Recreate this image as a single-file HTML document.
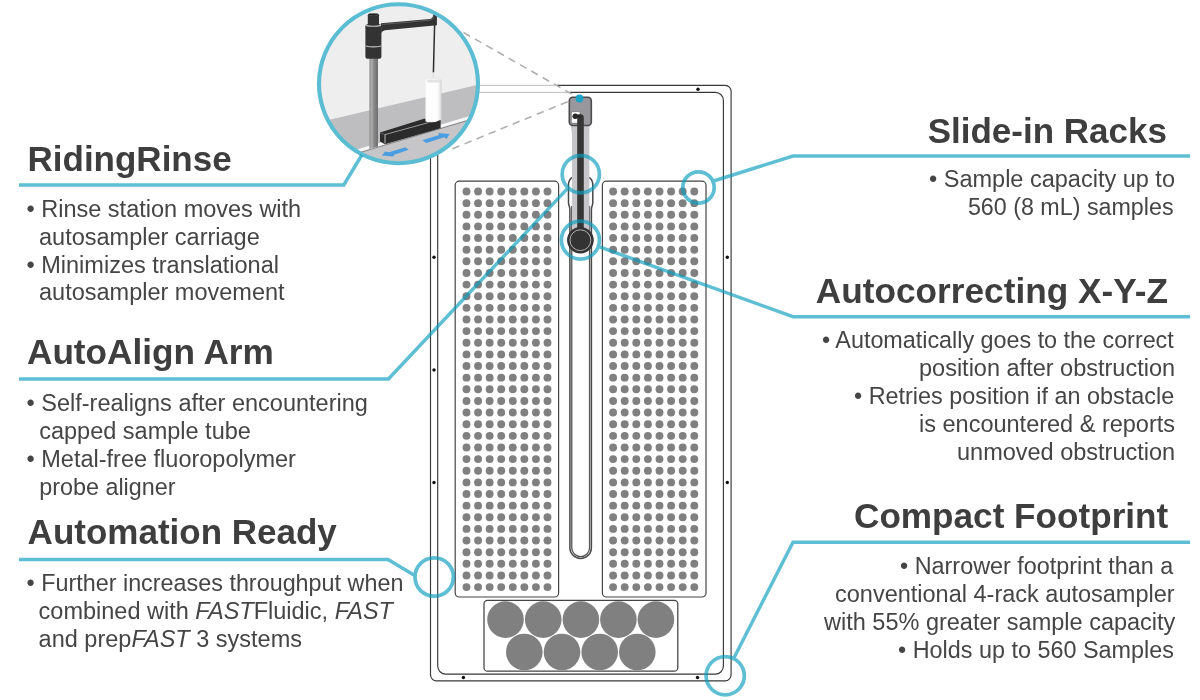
<!DOCTYPE html>
<html lang="en"><head><meta charset="utf-8"><title>Autosampler features</title>
<style>html,body{margin:0;padding:0;background:#fff}body{width:1200px;height:700px;overflow:hidden}svg{display:block}text{font-family:"Liberation Sans",Arial,Helvetica,sans-serif}</style>
</head><body>
<svg width="1200" height="700" viewBox="0 0 1200 700">
<defs>
<clipPath id="bigc"><circle cx="398.5" cy="83.8" r="79"/></clipPath>
<linearGradient id="cyl" x1="0" x2="1" y1="0" y2="0"><stop offset="0" stop-color="#fafafa"/><stop offset="0.15" stop-color="#fff"/><stop offset="0.78" stop-color="#fbfbfb"/><stop offset="1" stop-color="#d2d2d2"/></linearGradient>
<linearGradient id="post" x1="0" x2="1" y1="0" y2="0"><stop offset="0" stop-color="#8d8d8d"/><stop offset="0.3" stop-color="#b0b0b0"/><stop offset="0.5" stop-color="#8a8a8a"/><stop offset="1" stop-color="#6e6e6e"/></linearGradient>
</defs>
<rect width="1200" height="700" fill="#fff"/>
<g fill="none" stroke="#383838" stroke-width="1.15">
<rect x="430.5" y="85.3" width="300.6" height="595.5" rx="6" ry="6"/>
<rect x="437.7" y="92.4" width="285.7" height="581.7" rx="8" ry="8"/>
</g>
<rect x="425" y="80" width="132" height="9" fill="#fff"/>
<rect x="425" y="89" width="145" height="7" fill="#fff"/>
<line x1="470" y1="85.3" x2="557" y2="85.3" stroke="#b5b5b5" stroke-width="0.9"/>
<line x1="470" y1="92.4" x2="570" y2="92.4" stroke="#b5b5b5" stroke-width="0.9"/>
<circle cx="698" cy="89.2" r="1.7" fill="#111"/>
<circle cx="434" cy="257.2" r="1.7" fill="#111"/>
<circle cx="434" cy="370" r="1.7" fill="#111"/>
<circle cx="434" cy="482.5" r="1.7" fill="#111"/>
<circle cx="727.3" cy="257.2" r="1.7" fill="#111"/>
<circle cx="727.3" cy="482.5" r="1.7" fill="#111"/>
<circle cx="463.4" cy="677.5" r="1.7" fill="#111"/>
<circle cx="697.5" cy="677.5" r="1.7" fill="#111"/>
<rect x="455.2" y="181.2" width="103.4" height="415.8" rx="4" fill="#fff" stroke="#444" stroke-width="1.2"/>
<rect x="602.4" y="181.2" width="103.6" height="415.8" rx="4" fill="#fff" stroke="#444" stroke-width="1.2"/>
<g fill="#808081">
<circle cx="466.50" cy="191.50" r="3.95"/><circle cx="478.07" cy="191.50" r="3.95"/><circle cx="489.64" cy="191.50" r="3.95"/><circle cx="501.21" cy="191.50" r="3.95"/><circle cx="512.78" cy="191.50" r="3.95"/><circle cx="524.35" cy="191.50" r="3.95"/><circle cx="535.92" cy="191.50" r="3.95"/><circle cx="547.49" cy="191.50" r="3.95"/>
<circle cx="466.50" cy="203.13" r="3.95"/><circle cx="478.07" cy="203.13" r="3.95"/><circle cx="489.64" cy="203.13" r="3.95"/><circle cx="501.21" cy="203.13" r="3.95"/><circle cx="512.78" cy="203.13" r="3.95"/><circle cx="524.35" cy="203.13" r="3.95"/><circle cx="535.92" cy="203.13" r="3.95"/><circle cx="547.49" cy="203.13" r="3.95"/>
<circle cx="466.50" cy="214.77" r="3.95"/><circle cx="478.07" cy="214.77" r="3.95"/><circle cx="489.64" cy="214.77" r="3.95"/><circle cx="501.21" cy="214.77" r="3.95"/><circle cx="512.78" cy="214.77" r="3.95"/><circle cx="524.35" cy="214.77" r="3.95"/><circle cx="535.92" cy="214.77" r="3.95"/><circle cx="547.49" cy="214.77" r="3.95"/>
<circle cx="466.50" cy="226.41" r="3.95"/><circle cx="478.07" cy="226.41" r="3.95"/><circle cx="489.64" cy="226.41" r="3.95"/><circle cx="501.21" cy="226.41" r="3.95"/><circle cx="512.78" cy="226.41" r="3.95"/><circle cx="524.35" cy="226.41" r="3.95"/><circle cx="535.92" cy="226.41" r="3.95"/><circle cx="547.49" cy="226.41" r="3.95"/>
<circle cx="466.50" cy="238.04" r="3.95"/><circle cx="478.07" cy="238.04" r="3.95"/><circle cx="489.64" cy="238.04" r="3.95"/><circle cx="501.21" cy="238.04" r="3.95"/><circle cx="512.78" cy="238.04" r="3.95"/><circle cx="524.35" cy="238.04" r="3.95"/><circle cx="535.92" cy="238.04" r="3.95"/><circle cx="547.49" cy="238.04" r="3.95"/>
<circle cx="466.50" cy="249.68" r="3.95"/><circle cx="478.07" cy="249.68" r="3.95"/><circle cx="489.64" cy="249.68" r="3.95"/><circle cx="501.21" cy="249.68" r="3.95"/><circle cx="512.78" cy="249.68" r="3.95"/><circle cx="524.35" cy="249.68" r="3.95"/><circle cx="535.92" cy="249.68" r="3.95"/><circle cx="547.49" cy="249.68" r="3.95"/>
<circle cx="466.50" cy="261.31" r="3.95"/><circle cx="478.07" cy="261.31" r="3.95"/><circle cx="489.64" cy="261.31" r="3.95"/><circle cx="501.21" cy="261.31" r="3.95"/><circle cx="512.78" cy="261.31" r="3.95"/><circle cx="524.35" cy="261.31" r="3.95"/><circle cx="535.92" cy="261.31" r="3.95"/><circle cx="547.49" cy="261.31" r="3.95"/>
<circle cx="466.50" cy="272.94" r="3.95"/><circle cx="478.07" cy="272.94" r="3.95"/><circle cx="489.64" cy="272.94" r="3.95"/><circle cx="501.21" cy="272.94" r="3.95"/><circle cx="512.78" cy="272.94" r="3.95"/><circle cx="524.35" cy="272.94" r="3.95"/><circle cx="535.92" cy="272.94" r="3.95"/><circle cx="547.49" cy="272.94" r="3.95"/>
<circle cx="466.50" cy="284.58" r="3.95"/><circle cx="478.07" cy="284.58" r="3.95"/><circle cx="489.64" cy="284.58" r="3.95"/><circle cx="501.21" cy="284.58" r="3.95"/><circle cx="512.78" cy="284.58" r="3.95"/><circle cx="524.35" cy="284.58" r="3.95"/><circle cx="535.92" cy="284.58" r="3.95"/><circle cx="547.49" cy="284.58" r="3.95"/>
<circle cx="466.50" cy="296.22" r="3.95"/><circle cx="478.07" cy="296.22" r="3.95"/><circle cx="489.64" cy="296.22" r="3.95"/><circle cx="501.21" cy="296.22" r="3.95"/><circle cx="512.78" cy="296.22" r="3.95"/><circle cx="524.35" cy="296.22" r="3.95"/><circle cx="535.92" cy="296.22" r="3.95"/><circle cx="547.49" cy="296.22" r="3.95"/>
<circle cx="466.50" cy="307.85" r="3.95"/><circle cx="478.07" cy="307.85" r="3.95"/><circle cx="489.64" cy="307.85" r="3.95"/><circle cx="501.21" cy="307.85" r="3.95"/><circle cx="512.78" cy="307.85" r="3.95"/><circle cx="524.35" cy="307.85" r="3.95"/><circle cx="535.92" cy="307.85" r="3.95"/><circle cx="547.49" cy="307.85" r="3.95"/>
<circle cx="466.50" cy="319.49" r="3.95"/><circle cx="478.07" cy="319.49" r="3.95"/><circle cx="489.64" cy="319.49" r="3.95"/><circle cx="501.21" cy="319.49" r="3.95"/><circle cx="512.78" cy="319.49" r="3.95"/><circle cx="524.35" cy="319.49" r="3.95"/><circle cx="535.92" cy="319.49" r="3.95"/><circle cx="547.49" cy="319.49" r="3.95"/>
<circle cx="466.50" cy="331.12" r="3.95"/><circle cx="478.07" cy="331.12" r="3.95"/><circle cx="489.64" cy="331.12" r="3.95"/><circle cx="501.21" cy="331.12" r="3.95"/><circle cx="512.78" cy="331.12" r="3.95"/><circle cx="524.35" cy="331.12" r="3.95"/><circle cx="535.92" cy="331.12" r="3.95"/><circle cx="547.49" cy="331.12" r="3.95"/>
<circle cx="466.50" cy="342.75" r="3.95"/><circle cx="478.07" cy="342.75" r="3.95"/><circle cx="489.64" cy="342.75" r="3.95"/><circle cx="501.21" cy="342.75" r="3.95"/><circle cx="512.78" cy="342.75" r="3.95"/><circle cx="524.35" cy="342.75" r="3.95"/><circle cx="535.92" cy="342.75" r="3.95"/><circle cx="547.49" cy="342.75" r="3.95"/>
<circle cx="466.50" cy="354.39" r="3.95"/><circle cx="478.07" cy="354.39" r="3.95"/><circle cx="489.64" cy="354.39" r="3.95"/><circle cx="501.21" cy="354.39" r="3.95"/><circle cx="512.78" cy="354.39" r="3.95"/><circle cx="524.35" cy="354.39" r="3.95"/><circle cx="535.92" cy="354.39" r="3.95"/><circle cx="547.49" cy="354.39" r="3.95"/>
<circle cx="466.50" cy="366.02" r="3.95"/><circle cx="478.07" cy="366.02" r="3.95"/><circle cx="489.64" cy="366.02" r="3.95"/><circle cx="501.21" cy="366.02" r="3.95"/><circle cx="512.78" cy="366.02" r="3.95"/><circle cx="524.35" cy="366.02" r="3.95"/><circle cx="535.92" cy="366.02" r="3.95"/><circle cx="547.49" cy="366.02" r="3.95"/>
<circle cx="466.50" cy="377.66" r="3.95"/><circle cx="478.07" cy="377.66" r="3.95"/><circle cx="489.64" cy="377.66" r="3.95"/><circle cx="501.21" cy="377.66" r="3.95"/><circle cx="512.78" cy="377.66" r="3.95"/><circle cx="524.35" cy="377.66" r="3.95"/><circle cx="535.92" cy="377.66" r="3.95"/><circle cx="547.49" cy="377.66" r="3.95"/>
<circle cx="466.50" cy="389.29" r="3.95"/><circle cx="478.07" cy="389.29" r="3.95"/><circle cx="489.64" cy="389.29" r="3.95"/><circle cx="501.21" cy="389.29" r="3.95"/><circle cx="512.78" cy="389.29" r="3.95"/><circle cx="524.35" cy="389.29" r="3.95"/><circle cx="535.92" cy="389.29" r="3.95"/><circle cx="547.49" cy="389.29" r="3.95"/>
<circle cx="466.50" cy="400.93" r="3.95"/><circle cx="478.07" cy="400.93" r="3.95"/><circle cx="489.64" cy="400.93" r="3.95"/><circle cx="501.21" cy="400.93" r="3.95"/><circle cx="512.78" cy="400.93" r="3.95"/><circle cx="524.35" cy="400.93" r="3.95"/><circle cx="535.92" cy="400.93" r="3.95"/><circle cx="547.49" cy="400.93" r="3.95"/>
<circle cx="466.50" cy="412.56" r="3.95"/><circle cx="478.07" cy="412.56" r="3.95"/><circle cx="489.64" cy="412.56" r="3.95"/><circle cx="501.21" cy="412.56" r="3.95"/><circle cx="512.78" cy="412.56" r="3.95"/><circle cx="524.35" cy="412.56" r="3.95"/><circle cx="535.92" cy="412.56" r="3.95"/><circle cx="547.49" cy="412.56" r="3.95"/>
<circle cx="466.50" cy="424.20" r="3.95"/><circle cx="478.07" cy="424.20" r="3.95"/><circle cx="489.64" cy="424.20" r="3.95"/><circle cx="501.21" cy="424.20" r="3.95"/><circle cx="512.78" cy="424.20" r="3.95"/><circle cx="524.35" cy="424.20" r="3.95"/><circle cx="535.92" cy="424.20" r="3.95"/><circle cx="547.49" cy="424.20" r="3.95"/>
<circle cx="466.50" cy="435.84" r="3.95"/><circle cx="478.07" cy="435.84" r="3.95"/><circle cx="489.64" cy="435.84" r="3.95"/><circle cx="501.21" cy="435.84" r="3.95"/><circle cx="512.78" cy="435.84" r="3.95"/><circle cx="524.35" cy="435.84" r="3.95"/><circle cx="535.92" cy="435.84" r="3.95"/><circle cx="547.49" cy="435.84" r="3.95"/>
<circle cx="466.50" cy="447.47" r="3.95"/><circle cx="478.07" cy="447.47" r="3.95"/><circle cx="489.64" cy="447.47" r="3.95"/><circle cx="501.21" cy="447.47" r="3.95"/><circle cx="512.78" cy="447.47" r="3.95"/><circle cx="524.35" cy="447.47" r="3.95"/><circle cx="535.92" cy="447.47" r="3.95"/><circle cx="547.49" cy="447.47" r="3.95"/>
<circle cx="466.50" cy="459.11" r="3.95"/><circle cx="478.07" cy="459.11" r="3.95"/><circle cx="489.64" cy="459.11" r="3.95"/><circle cx="501.21" cy="459.11" r="3.95"/><circle cx="512.78" cy="459.11" r="3.95"/><circle cx="524.35" cy="459.11" r="3.95"/><circle cx="535.92" cy="459.11" r="3.95"/><circle cx="547.49" cy="459.11" r="3.95"/>
<circle cx="466.50" cy="470.74" r="3.95"/><circle cx="478.07" cy="470.74" r="3.95"/><circle cx="489.64" cy="470.74" r="3.95"/><circle cx="501.21" cy="470.74" r="3.95"/><circle cx="512.78" cy="470.74" r="3.95"/><circle cx="524.35" cy="470.74" r="3.95"/><circle cx="535.92" cy="470.74" r="3.95"/><circle cx="547.49" cy="470.74" r="3.95"/>
<circle cx="466.50" cy="482.38" r="3.95"/><circle cx="478.07" cy="482.38" r="3.95"/><circle cx="489.64" cy="482.38" r="3.95"/><circle cx="501.21" cy="482.38" r="3.95"/><circle cx="512.78" cy="482.38" r="3.95"/><circle cx="524.35" cy="482.38" r="3.95"/><circle cx="535.92" cy="482.38" r="3.95"/><circle cx="547.49" cy="482.38" r="3.95"/>
<circle cx="466.50" cy="494.01" r="3.95"/><circle cx="478.07" cy="494.01" r="3.95"/><circle cx="489.64" cy="494.01" r="3.95"/><circle cx="501.21" cy="494.01" r="3.95"/><circle cx="512.78" cy="494.01" r="3.95"/><circle cx="524.35" cy="494.01" r="3.95"/><circle cx="535.92" cy="494.01" r="3.95"/><circle cx="547.49" cy="494.01" r="3.95"/>
<circle cx="466.50" cy="505.64" r="3.95"/><circle cx="478.07" cy="505.64" r="3.95"/><circle cx="489.64" cy="505.64" r="3.95"/><circle cx="501.21" cy="505.64" r="3.95"/><circle cx="512.78" cy="505.64" r="3.95"/><circle cx="524.35" cy="505.64" r="3.95"/><circle cx="535.92" cy="505.64" r="3.95"/><circle cx="547.49" cy="505.64" r="3.95"/>
<circle cx="466.50" cy="517.28" r="3.95"/><circle cx="478.07" cy="517.28" r="3.95"/><circle cx="489.64" cy="517.28" r="3.95"/><circle cx="501.21" cy="517.28" r="3.95"/><circle cx="512.78" cy="517.28" r="3.95"/><circle cx="524.35" cy="517.28" r="3.95"/><circle cx="535.92" cy="517.28" r="3.95"/><circle cx="547.49" cy="517.28" r="3.95"/>
<circle cx="466.50" cy="528.91" r="3.95"/><circle cx="478.07" cy="528.91" r="3.95"/><circle cx="489.64" cy="528.91" r="3.95"/><circle cx="501.21" cy="528.91" r="3.95"/><circle cx="512.78" cy="528.91" r="3.95"/><circle cx="524.35" cy="528.91" r="3.95"/><circle cx="535.92" cy="528.91" r="3.95"/><circle cx="547.49" cy="528.91" r="3.95"/>
<circle cx="466.50" cy="540.55" r="3.95"/><circle cx="478.07" cy="540.55" r="3.95"/><circle cx="489.64" cy="540.55" r="3.95"/><circle cx="501.21" cy="540.55" r="3.95"/><circle cx="512.78" cy="540.55" r="3.95"/><circle cx="524.35" cy="540.55" r="3.95"/><circle cx="535.92" cy="540.55" r="3.95"/><circle cx="547.49" cy="540.55" r="3.95"/>
<circle cx="466.50" cy="552.18" r="3.95"/><circle cx="478.07" cy="552.18" r="3.95"/><circle cx="489.64" cy="552.18" r="3.95"/><circle cx="501.21" cy="552.18" r="3.95"/><circle cx="512.78" cy="552.18" r="3.95"/><circle cx="524.35" cy="552.18" r="3.95"/><circle cx="535.92" cy="552.18" r="3.95"/><circle cx="547.49" cy="552.18" r="3.95"/>
<circle cx="466.50" cy="563.82" r="3.95"/><circle cx="478.07" cy="563.82" r="3.95"/><circle cx="489.64" cy="563.82" r="3.95"/><circle cx="501.21" cy="563.82" r="3.95"/><circle cx="512.78" cy="563.82" r="3.95"/><circle cx="524.35" cy="563.82" r="3.95"/><circle cx="535.92" cy="563.82" r="3.95"/><circle cx="547.49" cy="563.82" r="3.95"/>
<circle cx="466.50" cy="575.45" r="3.95"/><circle cx="478.07" cy="575.45" r="3.95"/><circle cx="489.64" cy="575.45" r="3.95"/><circle cx="501.21" cy="575.45" r="3.95"/><circle cx="512.78" cy="575.45" r="3.95"/><circle cx="524.35" cy="575.45" r="3.95"/><circle cx="535.92" cy="575.45" r="3.95"/><circle cx="547.49" cy="575.45" r="3.95"/>
<circle cx="466.50" cy="587.09" r="3.95"/><circle cx="478.07" cy="587.09" r="3.95"/><circle cx="489.64" cy="587.09" r="3.95"/><circle cx="501.21" cy="587.09" r="3.95"/><circle cx="512.78" cy="587.09" r="3.95"/><circle cx="524.35" cy="587.09" r="3.95"/><circle cx="535.92" cy="587.09" r="3.95"/><circle cx="547.49" cy="587.09" r="3.95"/>
<circle cx="613.10" cy="191.50" r="3.95"/><circle cx="624.70" cy="191.50" r="3.95"/><circle cx="636.30" cy="191.50" r="3.95"/><circle cx="647.90" cy="191.50" r="3.95"/><circle cx="659.50" cy="191.50" r="3.95"/><circle cx="671.10" cy="191.50" r="3.95"/><circle cx="682.70" cy="191.50" r="3.95"/><circle cx="694.30" cy="191.50" r="3.95"/>
<circle cx="613.10" cy="203.13" r="3.95"/><circle cx="624.70" cy="203.13" r="3.95"/><circle cx="636.30" cy="203.13" r="3.95"/><circle cx="647.90" cy="203.13" r="3.95"/><circle cx="659.50" cy="203.13" r="3.95"/><circle cx="671.10" cy="203.13" r="3.95"/><circle cx="682.70" cy="203.13" r="3.95"/><circle cx="694.30" cy="203.13" r="3.95"/>
<circle cx="613.10" cy="214.77" r="3.95"/><circle cx="624.70" cy="214.77" r="3.95"/><circle cx="636.30" cy="214.77" r="3.95"/><circle cx="647.90" cy="214.77" r="3.95"/><circle cx="659.50" cy="214.77" r="3.95"/><circle cx="671.10" cy="214.77" r="3.95"/><circle cx="682.70" cy="214.77" r="3.95"/><circle cx="694.30" cy="214.77" r="3.95"/>
<circle cx="613.10" cy="226.41" r="3.95"/><circle cx="624.70" cy="226.41" r="3.95"/><circle cx="636.30" cy="226.41" r="3.95"/><circle cx="647.90" cy="226.41" r="3.95"/><circle cx="659.50" cy="226.41" r="3.95"/><circle cx="671.10" cy="226.41" r="3.95"/><circle cx="682.70" cy="226.41" r="3.95"/><circle cx="694.30" cy="226.41" r="3.95"/>
<circle cx="613.10" cy="238.04" r="3.95"/><circle cx="624.70" cy="238.04" r="3.95"/><circle cx="636.30" cy="238.04" r="3.95"/><circle cx="647.90" cy="238.04" r="3.95"/><circle cx="659.50" cy="238.04" r="3.95"/><circle cx="671.10" cy="238.04" r="3.95"/><circle cx="682.70" cy="238.04" r="3.95"/><circle cx="694.30" cy="238.04" r="3.95"/>
<circle cx="613.10" cy="249.68" r="3.95"/><circle cx="624.70" cy="249.68" r="3.95"/><circle cx="636.30" cy="249.68" r="3.95"/><circle cx="647.90" cy="249.68" r="3.95"/><circle cx="659.50" cy="249.68" r="3.95"/><circle cx="671.10" cy="249.68" r="3.95"/><circle cx="682.70" cy="249.68" r="3.95"/><circle cx="694.30" cy="249.68" r="3.95"/>
<circle cx="613.10" cy="261.31" r="3.95"/><circle cx="624.70" cy="261.31" r="3.95"/><circle cx="636.30" cy="261.31" r="3.95"/><circle cx="647.90" cy="261.31" r="3.95"/><circle cx="659.50" cy="261.31" r="3.95"/><circle cx="671.10" cy="261.31" r="3.95"/><circle cx="682.70" cy="261.31" r="3.95"/><circle cx="694.30" cy="261.31" r="3.95"/>
<circle cx="613.10" cy="272.94" r="3.95"/><circle cx="624.70" cy="272.94" r="3.95"/><circle cx="636.30" cy="272.94" r="3.95"/><circle cx="647.90" cy="272.94" r="3.95"/><circle cx="659.50" cy="272.94" r="3.95"/><circle cx="671.10" cy="272.94" r="3.95"/><circle cx="682.70" cy="272.94" r="3.95"/><circle cx="694.30" cy="272.94" r="3.95"/>
<circle cx="613.10" cy="284.58" r="3.95"/><circle cx="624.70" cy="284.58" r="3.95"/><circle cx="636.30" cy="284.58" r="3.95"/><circle cx="647.90" cy="284.58" r="3.95"/><circle cx="659.50" cy="284.58" r="3.95"/><circle cx="671.10" cy="284.58" r="3.95"/><circle cx="682.70" cy="284.58" r="3.95"/><circle cx="694.30" cy="284.58" r="3.95"/>
<circle cx="613.10" cy="296.22" r="3.95"/><circle cx="624.70" cy="296.22" r="3.95"/><circle cx="636.30" cy="296.22" r="3.95"/><circle cx="647.90" cy="296.22" r="3.95"/><circle cx="659.50" cy="296.22" r="3.95"/><circle cx="671.10" cy="296.22" r="3.95"/><circle cx="682.70" cy="296.22" r="3.95"/><circle cx="694.30" cy="296.22" r="3.95"/>
<circle cx="613.10" cy="307.85" r="3.95"/><circle cx="624.70" cy="307.85" r="3.95"/><circle cx="636.30" cy="307.85" r="3.95"/><circle cx="647.90" cy="307.85" r="3.95"/><circle cx="659.50" cy="307.85" r="3.95"/><circle cx="671.10" cy="307.85" r="3.95"/><circle cx="682.70" cy="307.85" r="3.95"/><circle cx="694.30" cy="307.85" r="3.95"/>
<circle cx="613.10" cy="319.49" r="3.95"/><circle cx="624.70" cy="319.49" r="3.95"/><circle cx="636.30" cy="319.49" r="3.95"/><circle cx="647.90" cy="319.49" r="3.95"/><circle cx="659.50" cy="319.49" r="3.95"/><circle cx="671.10" cy="319.49" r="3.95"/><circle cx="682.70" cy="319.49" r="3.95"/><circle cx="694.30" cy="319.49" r="3.95"/>
<circle cx="613.10" cy="331.12" r="3.95"/><circle cx="624.70" cy="331.12" r="3.95"/><circle cx="636.30" cy="331.12" r="3.95"/><circle cx="647.90" cy="331.12" r="3.95"/><circle cx="659.50" cy="331.12" r="3.95"/><circle cx="671.10" cy="331.12" r="3.95"/><circle cx="682.70" cy="331.12" r="3.95"/><circle cx="694.30" cy="331.12" r="3.95"/>
<circle cx="613.10" cy="342.75" r="3.95"/><circle cx="624.70" cy="342.75" r="3.95"/><circle cx="636.30" cy="342.75" r="3.95"/><circle cx="647.90" cy="342.75" r="3.95"/><circle cx="659.50" cy="342.75" r="3.95"/><circle cx="671.10" cy="342.75" r="3.95"/><circle cx="682.70" cy="342.75" r="3.95"/><circle cx="694.30" cy="342.75" r="3.95"/>
<circle cx="613.10" cy="354.39" r="3.95"/><circle cx="624.70" cy="354.39" r="3.95"/><circle cx="636.30" cy="354.39" r="3.95"/><circle cx="647.90" cy="354.39" r="3.95"/><circle cx="659.50" cy="354.39" r="3.95"/><circle cx="671.10" cy="354.39" r="3.95"/><circle cx="682.70" cy="354.39" r="3.95"/><circle cx="694.30" cy="354.39" r="3.95"/>
<circle cx="613.10" cy="366.02" r="3.95"/><circle cx="624.70" cy="366.02" r="3.95"/><circle cx="636.30" cy="366.02" r="3.95"/><circle cx="647.90" cy="366.02" r="3.95"/><circle cx="659.50" cy="366.02" r="3.95"/><circle cx="671.10" cy="366.02" r="3.95"/><circle cx="682.70" cy="366.02" r="3.95"/><circle cx="694.30" cy="366.02" r="3.95"/>
<circle cx="613.10" cy="377.66" r="3.95"/><circle cx="624.70" cy="377.66" r="3.95"/><circle cx="636.30" cy="377.66" r="3.95"/><circle cx="647.90" cy="377.66" r="3.95"/><circle cx="659.50" cy="377.66" r="3.95"/><circle cx="671.10" cy="377.66" r="3.95"/><circle cx="682.70" cy="377.66" r="3.95"/><circle cx="694.30" cy="377.66" r="3.95"/>
<circle cx="613.10" cy="389.29" r="3.95"/><circle cx="624.70" cy="389.29" r="3.95"/><circle cx="636.30" cy="389.29" r="3.95"/><circle cx="647.90" cy="389.29" r="3.95"/><circle cx="659.50" cy="389.29" r="3.95"/><circle cx="671.10" cy="389.29" r="3.95"/><circle cx="682.70" cy="389.29" r="3.95"/><circle cx="694.30" cy="389.29" r="3.95"/>
<circle cx="613.10" cy="400.93" r="3.95"/><circle cx="624.70" cy="400.93" r="3.95"/><circle cx="636.30" cy="400.93" r="3.95"/><circle cx="647.90" cy="400.93" r="3.95"/><circle cx="659.50" cy="400.93" r="3.95"/><circle cx="671.10" cy="400.93" r="3.95"/><circle cx="682.70" cy="400.93" r="3.95"/><circle cx="694.30" cy="400.93" r="3.95"/>
<circle cx="613.10" cy="412.56" r="3.95"/><circle cx="624.70" cy="412.56" r="3.95"/><circle cx="636.30" cy="412.56" r="3.95"/><circle cx="647.90" cy="412.56" r="3.95"/><circle cx="659.50" cy="412.56" r="3.95"/><circle cx="671.10" cy="412.56" r="3.95"/><circle cx="682.70" cy="412.56" r="3.95"/><circle cx="694.30" cy="412.56" r="3.95"/>
<circle cx="613.10" cy="424.20" r="3.95"/><circle cx="624.70" cy="424.20" r="3.95"/><circle cx="636.30" cy="424.20" r="3.95"/><circle cx="647.90" cy="424.20" r="3.95"/><circle cx="659.50" cy="424.20" r="3.95"/><circle cx="671.10" cy="424.20" r="3.95"/><circle cx="682.70" cy="424.20" r="3.95"/><circle cx="694.30" cy="424.20" r="3.95"/>
<circle cx="613.10" cy="435.84" r="3.95"/><circle cx="624.70" cy="435.84" r="3.95"/><circle cx="636.30" cy="435.84" r="3.95"/><circle cx="647.90" cy="435.84" r="3.95"/><circle cx="659.50" cy="435.84" r="3.95"/><circle cx="671.10" cy="435.84" r="3.95"/><circle cx="682.70" cy="435.84" r="3.95"/><circle cx="694.30" cy="435.84" r="3.95"/>
<circle cx="613.10" cy="447.47" r="3.95"/><circle cx="624.70" cy="447.47" r="3.95"/><circle cx="636.30" cy="447.47" r="3.95"/><circle cx="647.90" cy="447.47" r="3.95"/><circle cx="659.50" cy="447.47" r="3.95"/><circle cx="671.10" cy="447.47" r="3.95"/><circle cx="682.70" cy="447.47" r="3.95"/><circle cx="694.30" cy="447.47" r="3.95"/>
<circle cx="613.10" cy="459.11" r="3.95"/><circle cx="624.70" cy="459.11" r="3.95"/><circle cx="636.30" cy="459.11" r="3.95"/><circle cx="647.90" cy="459.11" r="3.95"/><circle cx="659.50" cy="459.11" r="3.95"/><circle cx="671.10" cy="459.11" r="3.95"/><circle cx="682.70" cy="459.11" r="3.95"/><circle cx="694.30" cy="459.11" r="3.95"/>
<circle cx="613.10" cy="470.74" r="3.95"/><circle cx="624.70" cy="470.74" r="3.95"/><circle cx="636.30" cy="470.74" r="3.95"/><circle cx="647.90" cy="470.74" r="3.95"/><circle cx="659.50" cy="470.74" r="3.95"/><circle cx="671.10" cy="470.74" r="3.95"/><circle cx="682.70" cy="470.74" r="3.95"/><circle cx="694.30" cy="470.74" r="3.95"/>
<circle cx="613.10" cy="482.38" r="3.95"/><circle cx="624.70" cy="482.38" r="3.95"/><circle cx="636.30" cy="482.38" r="3.95"/><circle cx="647.90" cy="482.38" r="3.95"/><circle cx="659.50" cy="482.38" r="3.95"/><circle cx="671.10" cy="482.38" r="3.95"/><circle cx="682.70" cy="482.38" r="3.95"/><circle cx="694.30" cy="482.38" r="3.95"/>
<circle cx="613.10" cy="494.01" r="3.95"/><circle cx="624.70" cy="494.01" r="3.95"/><circle cx="636.30" cy="494.01" r="3.95"/><circle cx="647.90" cy="494.01" r="3.95"/><circle cx="659.50" cy="494.01" r="3.95"/><circle cx="671.10" cy="494.01" r="3.95"/><circle cx="682.70" cy="494.01" r="3.95"/><circle cx="694.30" cy="494.01" r="3.95"/>
<circle cx="613.10" cy="505.64" r="3.95"/><circle cx="624.70" cy="505.64" r="3.95"/><circle cx="636.30" cy="505.64" r="3.95"/><circle cx="647.90" cy="505.64" r="3.95"/><circle cx="659.50" cy="505.64" r="3.95"/><circle cx="671.10" cy="505.64" r="3.95"/><circle cx="682.70" cy="505.64" r="3.95"/><circle cx="694.30" cy="505.64" r="3.95"/>
<circle cx="613.10" cy="517.28" r="3.95"/><circle cx="624.70" cy="517.28" r="3.95"/><circle cx="636.30" cy="517.28" r="3.95"/><circle cx="647.90" cy="517.28" r="3.95"/><circle cx="659.50" cy="517.28" r="3.95"/><circle cx="671.10" cy="517.28" r="3.95"/><circle cx="682.70" cy="517.28" r="3.95"/><circle cx="694.30" cy="517.28" r="3.95"/>
<circle cx="613.10" cy="528.91" r="3.95"/><circle cx="624.70" cy="528.91" r="3.95"/><circle cx="636.30" cy="528.91" r="3.95"/><circle cx="647.90" cy="528.91" r="3.95"/><circle cx="659.50" cy="528.91" r="3.95"/><circle cx="671.10" cy="528.91" r="3.95"/><circle cx="682.70" cy="528.91" r="3.95"/><circle cx="694.30" cy="528.91" r="3.95"/>
<circle cx="613.10" cy="540.55" r="3.95"/><circle cx="624.70" cy="540.55" r="3.95"/><circle cx="636.30" cy="540.55" r="3.95"/><circle cx="647.90" cy="540.55" r="3.95"/><circle cx="659.50" cy="540.55" r="3.95"/><circle cx="671.10" cy="540.55" r="3.95"/><circle cx="682.70" cy="540.55" r="3.95"/><circle cx="694.30" cy="540.55" r="3.95"/>
<circle cx="613.10" cy="552.18" r="3.95"/><circle cx="624.70" cy="552.18" r="3.95"/><circle cx="636.30" cy="552.18" r="3.95"/><circle cx="647.90" cy="552.18" r="3.95"/><circle cx="659.50" cy="552.18" r="3.95"/><circle cx="671.10" cy="552.18" r="3.95"/><circle cx="682.70" cy="552.18" r="3.95"/><circle cx="694.30" cy="552.18" r="3.95"/>
<circle cx="613.10" cy="563.82" r="3.95"/><circle cx="624.70" cy="563.82" r="3.95"/><circle cx="636.30" cy="563.82" r="3.95"/><circle cx="647.90" cy="563.82" r="3.95"/><circle cx="659.50" cy="563.82" r="3.95"/><circle cx="671.10" cy="563.82" r="3.95"/><circle cx="682.70" cy="563.82" r="3.95"/><circle cx="694.30" cy="563.82" r="3.95"/>
<circle cx="613.10" cy="575.45" r="3.95"/><circle cx="624.70" cy="575.45" r="3.95"/><circle cx="636.30" cy="575.45" r="3.95"/><circle cx="647.90" cy="575.45" r="3.95"/><circle cx="659.50" cy="575.45" r="3.95"/><circle cx="671.10" cy="575.45" r="3.95"/><circle cx="682.70" cy="575.45" r="3.95"/><circle cx="694.30" cy="575.45" r="3.95"/>
<circle cx="613.10" cy="587.09" r="3.95"/><circle cx="624.70" cy="587.09" r="3.95"/><circle cx="636.30" cy="587.09" r="3.95"/><circle cx="647.90" cy="587.09" r="3.95"/><circle cx="659.50" cy="587.09" r="3.95"/><circle cx="671.10" cy="587.09" r="3.95"/><circle cx="682.70" cy="587.09" r="3.95"/><circle cx="694.30" cy="587.09" r="3.95"/>
</g>
<rect x="484" y="600.3" width="193.8" height="70.9" rx="3.5" fill="#fff" stroke="#444" stroke-width="1.25"/>
<circle cx="505.5" cy="619.6" r="18.3" fill="#808080"/>
<circle cx="543.2" cy="619.6" r="18.3" fill="#808080"/>
<circle cx="580.9" cy="619.6" r="18.3" fill="#808080"/>
<circle cx="618.4" cy="619.6" r="18.3" fill="#808080"/>
<circle cx="655.9" cy="619.6" r="18.3" fill="#808080"/>
<circle cx="524.3" cy="652" r="18.3" fill="#808080"/>
<circle cx="562" cy="652" r="18.3" fill="#808080"/>
<circle cx="599.7" cy="652" r="18.3" fill="#808080"/>
<circle cx="637.3" cy="652" r="18.3" fill="#808080"/>
<path d="M571.6 177.8 C569.6 179.3 568.5 182 568.5 185 L568.5 202.5 C568.5 205.5 569.9 206.5 569.9 209.5 L569.9 547.65 A10.75 10.75 0 0 0 591.4 547.65 L591.4 209.5 C591.4 206.5 592.8 205.5 592.8 202.5 L592.8 185 C592.8 182 591.7 179.3 589.7 177.8" fill="none" stroke="#484848" stroke-width="1.5" stroke-linecap="round"/>
<path d="M571.75 206 L571.75 547.65 A8.9 8.9 0 0 0 589.55 547.65 L589.55 206" fill="none" stroke="#565656" stroke-width="1.3"/>
<path d="M570.6 124 L589.6 124 L589.3 134 L589.3 236 L572 236 L572 134 Z" fill="#c6c6ca"/>
<rect x="569.3" y="97.3" width="22" height="28.2" rx="3.5" fill="#98989c" stroke="#4c4c4c" stroke-width="1.6"/>
<rect x="571.3" y="111.6" width="9" height="11.6" rx="1.5" fill="#fff" stroke="#555" stroke-width="0.6"/>
<circle cx="575.3" cy="116.2" r="2.7" fill="#222"/>
<path d="M577.2 236 L577.2 117.5 A3.3 3.3 0 0 1 583.8 117.5 L583.8 236 Z" fill="#363636"/>
<path d="M574.5 116.2 L580 116.2" stroke="#2a2a2a" stroke-width="3.4" stroke-linecap="round"/>
<circle cx="580.4" cy="240.2" r="13.3" fill="#333"/>
<circle cx="580.4" cy="240.2" r="10.4" fill="none" stroke="#cfcfcf" stroke-width="0.8"/>
<g stroke="#b0b0b0" stroke-width="1.6" stroke-dasharray="7.5 5.5" fill="none">
<line x1="463.5" y1="32.5" x2="576" y2="96.5"/>
<line x1="452.5" y1="148.8" x2="573" y2="99.5"/>
</g>
<circle cx="579.5" cy="98.5" r="3.9" fill="#1aa3c6"/>
<circle cx="398.5" cy="83.8" r="79.5" fill="#eeeeee"/>
<g clip-path="url(#bigc)">
<polygon points="300,126.85 500,79.45 500,108.67 300,168.27" fill="#bebec1"/>
<polygon points="300,168.27 500,108.67 500,200 300,200" fill="#c6c6c9"/>
<line x1="300" y1="168.27" x2="500" y2="108.67" stroke="#f6f6f6" stroke-width="3.4"/>
<line x1="300" y1="170.37" x2="500" y2="110.77" stroke="#666" stroke-width="0.7"/>
<polygon points="369.4,56 378,56 378,146.5 369.4,149.1" fill="url(#post)"/>
<rect x="367.8" y="13.8" width="11.2" height="12" rx="1.5" fill="#333"/>
<ellipse cx="373.4" cy="14.6" rx="5.2" ry="1.1" fill="#222" stroke="#666" stroke-width="0.4"/>
<rect x="365.4" y="24.2" width="16" height="34.6" rx="2" fill="#333"/>
<path d="M365.6 25.4 Q373.4 27.2 381.2 25.4" stroke="#c4c4c4" stroke-width="1.1" fill="none"/>
<path d="M365.6 46 Q373.4 47.8 381.2 46" stroke="#c0c0c0" stroke-width="1.2" fill="none"/>
<path d="M381 23.2 L430 18.9 Q433 18.5 433.3 14.2 L436.9 15.8 L436.9 25.2 L385 30.3 Q382.2 30.8 381.2 33 Z" fill="#333"/>
<path d="M382 24.4 L430 20.2 Q433.6 19.6 434 15.6" stroke="#888" stroke-width="0.5" fill="none"/>
<line x1="434.6" y1="25" x2="433.4" y2="72.5" stroke="#2d2d2d" stroke-width="1.5"/>
<line x1="433.4" y1="72.5" x2="433.3" y2="78" stroke="#ddd" stroke-width="1.3"/>
<polygon points="380,132.6 424,118.8 440.6,120 440.6,128.3 385,144.2 380,141.4" fill="#2b2b2b"/>
<path d="M385 134.6 L428.5 122.6" stroke="#ccc" stroke-width="0.7" fill="none"/>
<path d="M385 134.6 L385 143.4" stroke="#ccc" stroke-width="0.9" fill="none"/>
<path d="M380.2 133.2 L385 134.6" stroke="#999" stroke-width="0.5" fill="none"/>
<path d="M425.5 81 Q425.5 79 427.5 79 L439.5 79 Q441.6 79 441.6 81 L441.6 119.6 Q433.5 124 425.5 121.4 Z" fill="url(#cyl)"/>
<rect x="427" y="79.4" width="13" height="3" rx="1.5" fill="#e3e3e3"/>
<polygon points="405.3,147.2 408.7,149.8 394.3,154.8 393.3,156.5 382,155.4 385.2,151.5 389,152.2" fill="#4a9de0"/>
<polygon points="422.2,140.3 426.3,142.9 444.3,137.3 446.7,138.9 449.5,134 438,133.1 439.2,135" fill="#4a9de0"/>
</g>
<circle cx="398.5" cy="83.8" r="79.5" fill="none" stroke="#5bbdd3" stroke-width="4.1"/>
<g opacity="0.66" fill="none" stroke="#0a9dbe">
<g stroke-width="3.45" stroke-linejoin="miter">
<path d="M19 185 L343.8 185 L361.8 155"/>
<path d="M19 379 L388.4 379 L567.4 188.6"/>
<path d="M19 559.5 L388 559.5 L416 576.2"/>
<path d="M1190 156 L793 156 L713.6 181"/>
<path d="M1190 316.7 L793 316.7 L598.2 246.4"/>
<path d="M1190 542.3 L793 542.3 L733.8 658.2"/>
</g>
<g stroke-width="3.7">
<circle cx="580.8" cy="174.2" r="18.6"/>
<circle cx="580.4" cy="240.1" r="19"/>
<circle cx="698.5" cy="187.5" r="15.7"/>
<circle cx="434.2" cy="577" r="19.2"/>
<circle cx="725.2" cy="675.8" r="19.1"/>
</g>
</g>
<g opacity="0.999">
<text transform="translate(27.50 170.70) scale(1.0000 1)" font-size="35" font-weight="bold" fill="#3e3e3e">RidingRinse</text>
<text transform="translate(26.50 216.50) scale(1.0000 1)" font-size="23.5" fill="#454545">• Rinse station moves with</text>
<text transform="translate(39.00 244.50) scale(1.0000 1)" font-size="23.5" fill="#454545">autosampler carriage</text>
<text transform="translate(26.50 272.50) scale(1.0000 1)" font-size="23.5" fill="#454545">• Minimizes translational</text>
<text transform="translate(39.00 300.00) scale(1.0000 1)" font-size="23.5" fill="#454545">autosampler movement</text>
<text transform="translate(26.99 364.00) scale(1.0053 1)" font-size="35" font-weight="bold" fill="#3e3e3e">AutoAlign Arm</text>
<text transform="translate(26.50 411.00) scale(1.0000 1)" font-size="23.5" fill="#454545">• Self-realigns after encountering</text>
<text transform="translate(39.20 439.10) scale(1.0000 1)" font-size="23.5" fill="#454545">capped sample tube</text>
<text transform="translate(26.50 467.30) scale(1.0000 1)" font-size="23.5" fill="#454545">• Metal-free fluoropolymer</text>
<text transform="translate(39.21 495.30) scale(0.9941 1)" font-size="23.5" fill="#454545">probe aligner</text>
<text transform="translate(27.60 544.40) scale(1.0000 1)" font-size="35" font-weight="bold" fill="#3e3e3e">Automation Ready</text>
<text transform="translate(26.51 591.00) scale(0.9944 1)" font-size="23.5" fill="#454545">• Further increases throughput when</text>
<text transform="translate(38.60 619.30) scale(1.0000 1)" font-size="23.5" fill="#454545">combined with <tspan font-style="italic">FAST</tspan>Fluidic, <tspan font-style="italic">FAST</tspan></text>
<text transform="translate(38.60 647.30) scale(1.0000 1)" font-size="23.5" fill="#454545">and prep<tspan font-style="italic">FAST</tspan> 3 systems</text>
<text transform="translate(927.70 143.40) scale(1.0000 1)" font-size="35" font-weight="bold" fill="#3e3e3e">Slide-in Racks</text>
<text transform="translate(929.00 187.20) scale(1.0000 1)" font-size="23.5" fill="#454545">• Sample capacity up to</text>
<text transform="translate(967.91 214.70) scale(0.9908 1)" font-size="23.5" fill="#454545">560 (8 mL) samples</text>
<text transform="translate(815.79 302.90) scale(1.0063 1)" font-size="35" font-weight="bold" fill="#3e3e3e">Autocorrecting X-Y-Z</text>
<text transform="translate(822.01 347.80) scale(0.9932 1)" font-size="23.5" fill="#454545">• Automatically goes to the correct</text>
<text transform="translate(919.00 375.95) scale(1.0000 1)" font-size="23.5" fill="#454545">position after obstruction</text>
<text transform="translate(854.00 404.10) scale(0.9956 1)" font-size="23.5" fill="#454545">• Retries position if an obstacle</text>
<text transform="translate(919.00 432.25) scale(1.0000 1)" font-size="23.5" fill="#454545">is encountered &amp; reports</text>
<text transform="translate(957.00 460.40) scale(1.0000 1)" font-size="23.5" fill="#454545">unmoved obstruction</text>
<text transform="translate(854.00 528.40) scale(1.0045 1)" font-size="35" font-weight="bold" fill="#3e3e3e">Compact Footprint</text>
<text transform="translate(900.01 573.50) scale(0.9949 1)" font-size="23.5" fill="#454545">• Narrower footprint than a</text>
<text transform="translate(835.00 601.80) scale(1.0000 1)" font-size="23.5" fill="#454545">conventional 4-rack autosampler</text>
<text transform="translate(824.00 630.10) scale(1.0000 1)" font-size="23.5" fill="#454545">with 55% greater sample capacity</text>
<text transform="translate(898.01 658.40) scale(0.9949 1)" font-size="23.5" fill="#454545">• Holds up to 560 Samples</text>
</g>
</svg>
</body></html>
